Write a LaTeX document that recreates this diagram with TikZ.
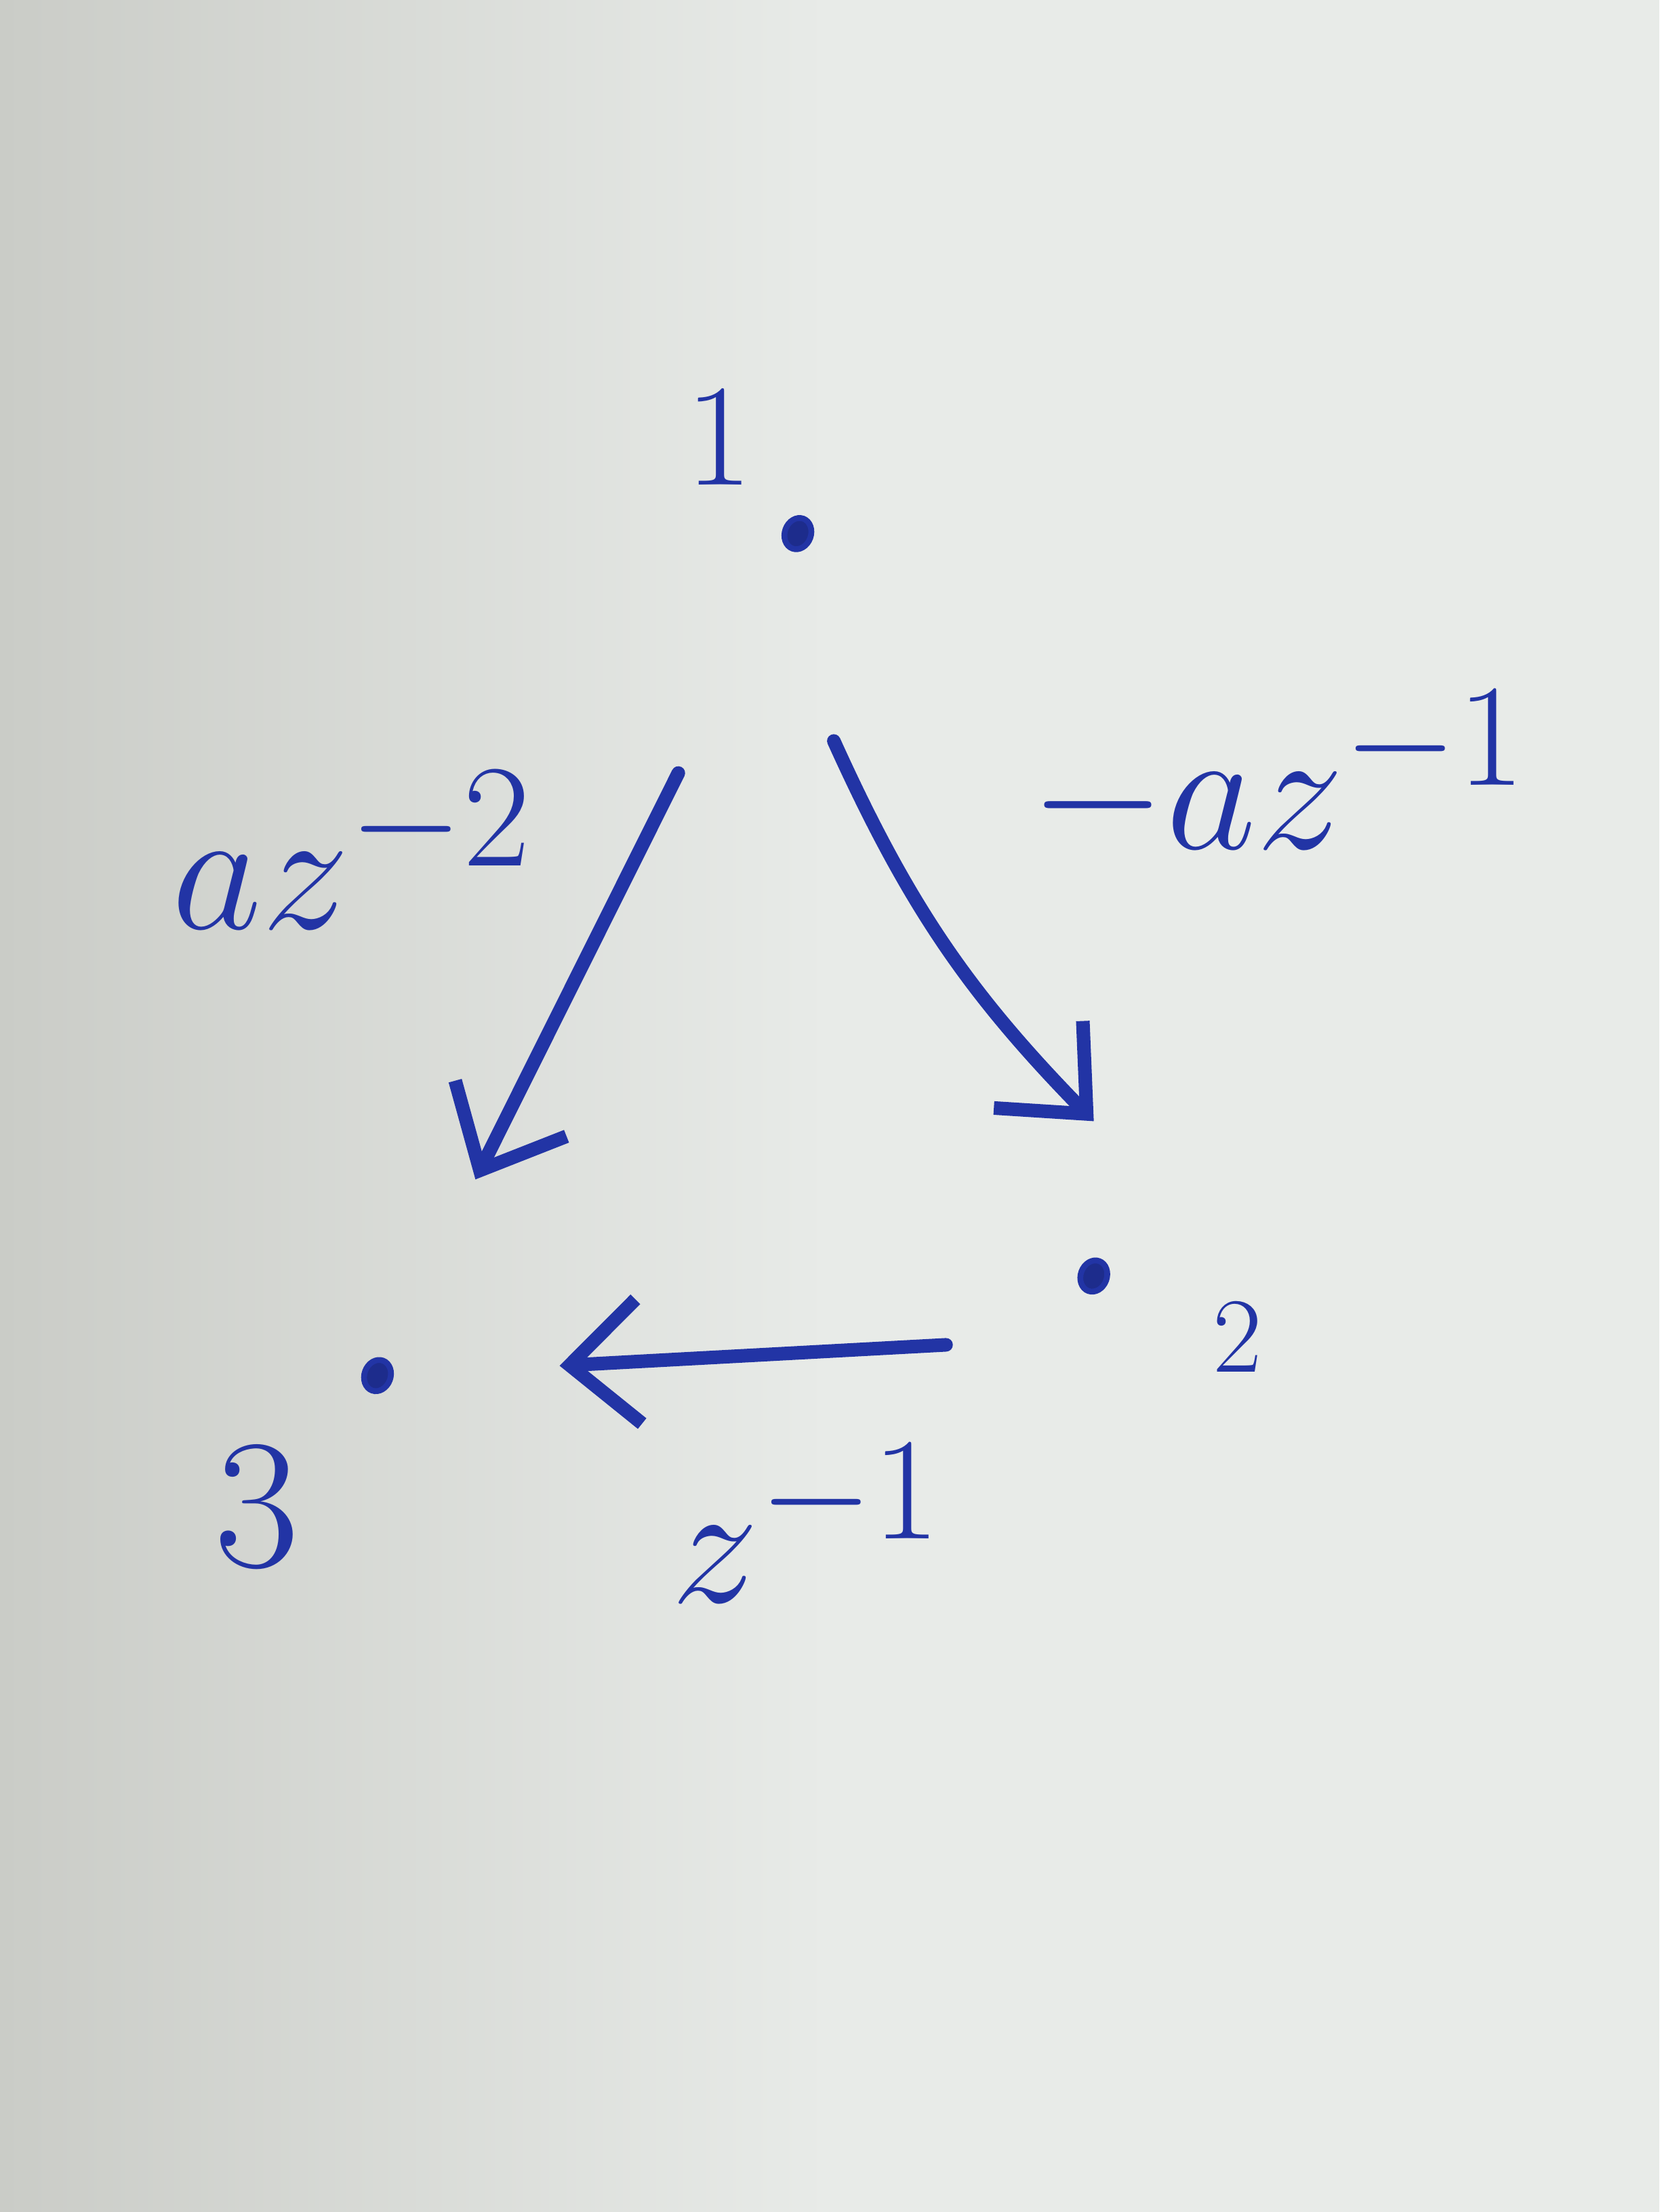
\documentclass[tikz,border=0pt]{standalone}
\usepackage{tikz}
\usetikzlibrary{arrows.meta,positioning,shapes.geometric}
\definecolor{ink}{RGB}{34,52,165}
\definecolor{paper}{RGB}{232,235,232}
\definecolor{paperdark}{RGB}{202,204,199}
\tikzset{
  dotnode/.style={ellipse, draw=ink, fill=ink!85!black, line width=1.2pt, inner sep=0pt, minimum width=1.9mm, minimum height=2.3mm, rotate=-20},
  numtext/.style={text=ink, font=\fontsize{30}{34}\selectfont},
  edgetext/.style={text=ink, font=\fontsize{24.88}{30}\selectfont, scale=1.45, transform shape},
  arr/.style={draw=ink, line width=2.8pt, line cap=round, -{Straight Barb[length=5mm,width=9mm,line width=2.8pt]}}
}
\begin{document}
\begin{tikzpicture}
			%%%%% PAPER %%%%%
			\shade[left color=paperdark, right color=paper] (0, 0) rectangle (6, 16);
			\fill[paper] (6, 0) rectangle (12, 16);
			\useasboundingbox (0, 0) rectangle (12, 16);
			
			%%%%% NODES %%%%%
			\node[dotnode] (n1) at (5.77, 12.14) {};
			\node[dotnode] (n2) at (7.91, 6.77) {};
			\node[dotnode] (n3) at (2.73, 6.05) {};
			
			\node[numtext] (t1) at (5.20, 12.84) {1};
			\node[numtext, font=\fontsize{22}{26}\selectfont] (t2) at (8.95, 6.33) {2};
			\node[numtext, font=\fontsize{38}{42}\selectfont] (t3) at (1.86, 5.10) {3};
			
			%%%%% ARROWS %%%%%
			\draw[arr, shorten <=1.8cm, shorten >=1.45cm] (n1) -- (n3);
			\draw[arr] ([shift={(0.26,-1.50)}]n1.center) to[bend right=10] ([yshift=1.12cm]n2.center);
			\draw[arr, shorten <=1.07cm, shorten >=1.2cm] ([yshift=-4.4mm]n2.center) -- (n3);
			
			%%%%% LABELS %%%%%
			\node[edgetext] (l13) at (2.55, 9.85) {$az^{-2}$};
			\node[edgetext] (l12) at (9.25, 10.38) {$-az^{-1}$};
			\node[edgetext] (l23) at (5.84, 4.98) {$z^{-1}$};
			
			%%%%% END %%%%%
\end{tikzpicture}
\end{document}
